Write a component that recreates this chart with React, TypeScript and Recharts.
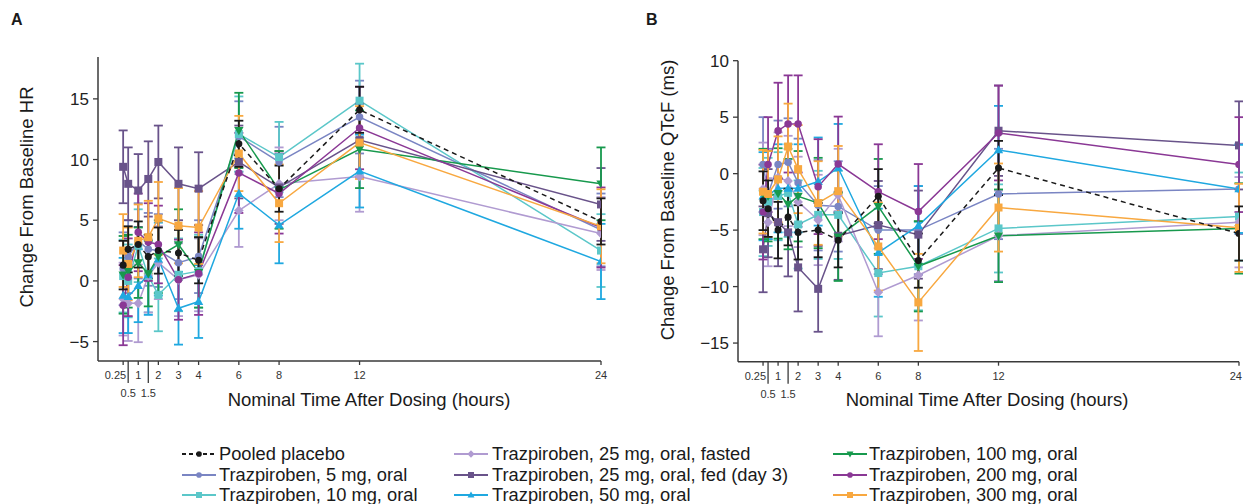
import React from 'react';
import { ComposedChart, Line, XAxis, YAxis, ErrorBar } from 'recharts';

// ---------- categories / ticks ----------
const times = [0.25, 0.5, 1, 1.5, 2, 3, 4, 6, 8, 12, 24];
const xTicks = [0.25, 0.5, 1, 1.5, 2, 3, 4, 6, 8, 12, 24];
const yTicksA = [-5, 0, 5, 10, 15];
const yTicksB = [-15, -10, -5, 0, 5, 10];

const seriesNames = [
  'Pooled placebo',
  'Trazpiroben, 5 mg, oral',
  'Trazpiroben, 10 mg, oral',
  'Trazpiroben, 25 mg, oral, fasted',
  'Trazpiroben, 25 mg, oral, fed (day 3)',
  'Trazpiroben, 50 mg, oral',
  'Trazpiroben, 100 mg, oral',
  'Trazpiroben, 200 mg, oral',
  'Trazpiroben, 300 mg, oral',
];
const seriesColors = ['#1a1a1a', '#7a85c3', '#5bc7c9', '#b09bd1', '#69538a', '#1fa8e0', '#17994d', '#8a3895', '#f8a840'];
const seriesShapes = ['circle', 'circle', 'square', 'diamond', 'square', 'triUp', 'triDown', 'circle', 'square'];

// ---------- Panel A: change from baseline HR ----------
const hrPlacebo = [1.3, 2.6, 3.0, 2.0, 2.5, 2.3, 1.7, 11.3, 7.6, 14.1, 4.9];
const hrPlaceboErr = [2.0, 1.9, 1.9, 1.8, 1.9, 1.9, 1.9, 1.9, 1.9, 1.9, 1.9];
const hr5 = [1.0, 2.0, 3.3, 2.6, 2.5, 1.5, 2.0, 11.9, 9.8, 13.5, 4.2];
const hr5Err = [3.0, 3.0, 3.1, 3.0, 3.0, 3.0, 3.0, 2.9, 2.9, 3.0, 3.0];
const hr10 = [0.4, 0.0, 2.9, 0.4, -1.15, 0.5, 0.8, 12.1, 10.2, 14.85, 2.5];
const hr10Err = [3.0, 3.0, 3.0, 3.0, 3.0, 3.0, 3.0, 3.1, 2.9, 3.05, 3.0];
const hr25f = [-1.5, -1.85, -1.85, 0.4, 1.5, 0.1, 0.5, 5.8, 8.0, 8.6, 3.9];
const hr25fErr = [3.0, 3.1, 3.2, 3.0, 3.0, 3.0, 3.0, 3.0, 3.0, 2.9, 3.0];
const hr25fed = [9.4, 8.0, 7.45, 8.4, 9.8, 8.0, 7.6, 9.8, 7.7, 11.6, 6.3];
const hr25fedErr = [3.0, 3.0, 3.0, 3.1, 3.0, 3.0, 3.0, 3.0, 3.0, 3.0, 3.0];
const hr50 = [-1.2, -1.3, -0.4, 0.5, 1.8, -2.25, -1.7, 7.2, 4.6, 9.05, 1.6];
const hr50Err = [3.1, 3.0, 3.0, 3.3, 3.0, 3.0, 3.0, 2.9, 3.15, 3.0, 3.1];
const hr100 = [0.5, 0.8, 1.5, 0.6, 2.0, 3.0, 0.7, 12.4, 7.5, 10.85, 8.0];
const hr100Err = [3.2, 3.0, 2.9, 2.7, 3.0, 2.9, 2.9, 3.1, 3.2, 3.2, 3.0];
const hr200 = [-2.0, 0.3, 4.0, 3.2, 3.0, 0.1, 0.6, 8.9, 7.2, 12.6, 4.4];
const hr200Err = [3.3, 3.2, 3.2, 3.2, 3.2, 3.3, 3.4, 3.3, 3.3, 3.4, 3.3];
const hr300 = [2.5, 1.4, 3.3, 3.6, 5.15, 4.55, 4.4, 10.5, 6.4, 11.4, 4.5];
const hr300Err = [3.0, 3.0, 3.0, 3.0, 3.0, 3.1, 3.0, 3.1, 3.2, 3.0, 3.05];

// ---------- Panel B: change from baseline QTcF ----------
const qtPlacebo = [-2.4, -3.1, -5.0, -3.85, -5.2, -5.0, -5.9, -2.0, -7.7, 0.5, -5.3];
const qtPlaceboErr = [2.6, 2.5, 2.5, 2.5, 2.4, 2.4, 2.4, 2.4, 2.4, 2.4, 2.4];
const qt5 = [0.8, -1.8, 0.8, 1.0, -0.8, -2.8, -2.9, -5.0, -5.0, -1.8, -1.35];
const qt5Err = [4.2, 4.0, 3.9, 3.9, 3.9, 4.0, 4.0, 3.9, 3.9, 4.0, 4.0];
const qt10 = [-3.4, -2.5, -2.0, -1.7, -4.5, -3.65, -3.65, -8.8, -8.2, -4.85, -3.8];
const qt10Err = [3.9, 3.9, 3.9, 3.9, 3.9, 3.9, 3.9, 3.85, 3.9, 3.9, 3.9];
const qt25f = [-1.35, -4.3, -0.35, -0.65, -2.5, -4.1, -1.9, -10.5, -9.0, -5.5, -4.3];
const qt25fErr = [4.1, 3.9, 4.0, 4.0, 4.0, 4.0, 4.1, 3.9, 4.0, 4.0, 4.0];
const qt25fed = [-6.7, -3.5, -4.3, -5.2, -8.3, -10.2, -5.5, -4.55, -5.4, 3.8, 2.5];
const qt25fedErr = [3.8, 3.9, 3.9, 3.9, 3.9, 3.8, 3.9, 3.9, 3.9, 4.0, 3.9];
const qt50 = [-2.0, -1.9, -1.3, -1.3, -1.3, -0.7, 0.5, -7.0, -4.6, 2.1, -1.35];
const qt50Err = [3.9, 3.9, 3.9, 3.9, 3.9, 3.9, 3.9, 3.9, 3.5, 3.9, 3.9];
const qt100 = [-1.8, -2.0, -1.75, -2.7, -2.0, -2.6, -5.6, -2.9, -8.2, -5.5, -4.85];
const qt100Err = [4.0, 4.0, 4.0, 4.0, 4.0, 4.0, 3.9, 4.2, 4.0, 4.1, 4.0];
const qt200 = [-3.4, 0.8, 3.8, 4.4, 4.4, -1.15, 0.85, -1.6, -3.35, 3.6, 0.8];
const qt200Err = [4.2, 4.2, 4.25, 4.3, 4.3, 4.2, 4.2, 4.2, 4.2, 4.2, 4.2];
const qt300 = [-1.6, -1.8, -0.5, 2.4, 0.4, -2.6, -1.55, -6.45, -11.4, -3.0, -4.8];
const qt300Err = [3.7, 3.8, 3.8, 3.8, 3.9, 3.7, 4.0, 3.9, 4.3, 3.9, 3.9];

const hrMeans = [hrPlacebo, hr5, hr10, hr25f, hr25fed, hr50, hr100, hr200, hr300];
const hrErrs = [hrPlaceboErr, hr5Err, hr10Err, hr25fErr, hr25fedErr, hr50Err, hr100Err, hr200Err, hr300Err];
const qtMeans = [qtPlacebo, qt5, qt10, qt25f, qt25fed, qt50, qt100, qt200, qt300];
const qtErrs = [qtPlaceboErr, qt5Err, qt10Err, qt25fErr, qt25fedErr, qt50Err, qt100Err, qt200Err, qt300Err];

function buildRows(means: number[][], errs: number[][]) {
  return times.map((t, i) => {
    const row: any = { t };
    means.forEach((m, s) => {
      row[`s${s}`] = m[i];
      row[`e${s}`] = errs[s][i];
    });
    return row;
  });
}

const rowsA = buildRows(hrMeans, hrErrs);
const rowsB = buildRows(qtMeans, qtErrs);

const AXIS = '#3a3a3a';
const FONT = '"Liberation Sans", Arial, Helvetica, sans-serif';

function Marker({ shape, cx, cy, color, size }: any) {
  if (cx == null || cy == null) return <g />;
  const s = size;
  switch (shape) {
    case 'circle':
      return <circle cx={cx} cy={cy} r={s * 0.47} fill={color} />;
    case 'square':
      return <rect x={cx - s / 2} y={cy - s / 2} width={s} height={s} fill={color} />;
    case 'diamond':
      return (
        <path
          d={`M${cx},${cy - s * 0.62}L${cx + s * 0.6},${cy}L${cx},${cy + s * 0.62}L${cx - s * 0.6},${cy}Z`}
          fill={color}
        />
      );
    case 'triUp':
      return (
        <path d={`M${cx},${cy - s * 0.6}L${cx + s * 0.58},${cy + s * 0.42}L${cx - s * 0.58},${cy + s * 0.42}Z`} fill={color} />
      );
    case 'triDown':
      return (
        <path d={`M${cx},${cy + s * 0.6}L${cx + s * 0.58},${cy - s * 0.42}L${cx - s * 0.58},${cy - s * 0.42}Z`} fill={color} />
      );
    default:
      return <g />;
  }
}

function XTick(props: any) {
  const { x, y, payload, shiftLast } = props;
  const v = payload.value;
  const lower = v === 0.5 || v === 1.5;
  if (lower) {
    return (
      <g>
        <line x1={x} x2={x} y1={y} y2={y + 22} stroke={AXIS} strokeWidth={1.3} />
        <text x={x} y={y + 36} textAnchor="middle" fontSize={11} fill="#333" fontFamily={FONT}>
          {String(v)}
        </text>
      </g>
    );
  }
  let tx = x;
  let anchor: 'start' | 'middle' | 'end' = 'middle';
  if (v === 0.25) {
    tx = x + 3;
    anchor = 'end';
  } else if (v === 24 && shiftLast) {
    tx = x + 3;
    anchor = 'end';
  }
  return (
    <g>
      <line x1={x} x2={x} y1={y} y2={y + 4} stroke={AXIS} strokeWidth={1.3} />
      <text x={tx} y={y + 18} textAnchor={anchor} fontSize={11} fill="#333" fontFamily={FONT}>
        {String(v)}
      </text>
    </g>
  );
}

const fmtMinus = (v: number) => (v < 0 ? `\u2212${Math.abs(v)}` : `${v}`);

// drawing order: drugs first, placebo on top
const drawOrder = [1, 2, 3, 4, 5, 6, 7, 8, 0];

function Panel({ rows, domain, yTicks, width, margin, yWidth, shiftLast }: any) {
  return (
    <ComposedChart width={width} height={420} data={rows} margin={margin}>
      <XAxis
        dataKey="t"
        type="number"
        domain={[-1, 24]}
        ticks={xTicks}
        interval={0}
        allowDataOverflow
        height={30}
        axisLine={{ stroke: AXIS, strokeWidth: 1.5 }}
        tickLine={false}
        tickSize={0}
        tickMargin={0}
        tick={(p: any) => <XTick {...p} shiftLast={shiftLast} />}
      />
      <YAxis
        type="number"
        domain={domain}
        ticks={yTicks}
        interval={0}
        allowDataOverflow
        width={yWidth}
        axisLine={{ stroke: AXIS, strokeWidth: 1.5 }}
        tickLine={{ stroke: AXIS, strokeWidth: 1.3 }}
        tickSize={5}
        tickMargin={4}
        tickFormatter={fmtMinus}
        tick={{ fontSize: 17, fill: '#222', fontFamily: FONT }}
      />
      {drawOrder.map((s) => (
        <Line
          key={s}
          type="linear"
          dataKey={`s${s}`}
          stroke={seriesColors[s]}
          strokeWidth={1.5}
          strokeDasharray={s === 0 ? '5 4' : undefined}
          isAnimationActive={false}
          activeDot={false}
          dot={(p: any) => (
            <Marker key={`d${s}-${p.index}`} shape={seriesShapes[s]} cx={p.cx} cy={p.cy} color={seriesColors[s]} size={s === 0 ? 7.5 : 8} />
          )}
        >
          <ErrorBar
            dataKey={`e${s}`}
            width={4.5}
            stroke={seriesColors[s]}
            strokeWidth={1.8}
            direction="y"
            isAnimationActive={false}
          />
        </Line>
      ))}
    </ComposedChart>
  );
}

function LegendSample({ s }: { s: number }) {
  const c = seriesColors[s];
  return (
    <svg width={34} height={12} style={{ display: 'block' }}>
      <line x1={0} x2={34} y1={6} y2={6} stroke={c} strokeWidth={2} strokeDasharray={s === 0 ? '4 3' : undefined} />
      <Marker shape={seriesShapes[s]} cx={17} cy={6} color={c} size={6} />
    </svg>
  );
}

const legendCols = [
  { sampleX: 182, textX: 219, items: [0, 1, 2] },
  { sampleX: 454, textX: 492, items: [3, 4, 5] },
  { sampleX: 833, textX: 869, items: [6, 7, 8] },
];
const legendRowY = [454, 474.5, 494.5];

const textStyle: React.CSSProperties = {
  position: 'absolute',
  fontFamily: FONT,
  color: '#1a1a1a',
  whiteSpace: 'nowrap',
};

export default function App() {
  return (
    <div
      style={{
        position: 'absolute',
        left: 0,
        top: 0,
        width: 1243,
        height: 504,
        background: '#fff',
        overflow: 'hidden',
        fontFamily: FONT,
      }}
    >
      <div style={{ position: 'absolute', left: 0, top: 0 }}>
        <Panel
          rows={rowsA}
          domain={[-6.6, 18.45]}
          yTicks={yTicksA}
          width={620}
          yWidth={98}
          margin={{ top: 57, right: 19, bottom: 29, left: 0 }}
        />
      </div>
      <div style={{ position: 'absolute', left: 620, top: 0 }}>
        <Panel
          rows={rowsB}
          domain={[-16.65, 10]}
          yTicks={yTicksB}
          width={623}
          yWidth={118}
          shiftLast
          margin={{ top: 60.7, right: 4, bottom: 28.3, left: 0 }}
        />
      </div>

      {/* panel letters */}
      <div style={{ ...textStyle, left: 11, top: 11, fontSize: 16, fontWeight: 'bold' }}>A</div>
      <div style={{ ...textStyle, left: 646, top: 11, fontSize: 16, fontWeight: 'bold' }}>B</div>

      {/* y-axis titles */}
      <div
        style={{
          ...textStyle,
          left: 27 - 150,
          top: 197 - 12,
          width: 300,
          height: 24,
          lineHeight: '24px',
          textAlign: 'center',
          fontSize: 18.5,
          transform: 'rotate(-90deg)',
        }}
      >
        Change From Baseline HR
      </div>
      <div
        style={{
          ...textStyle,
          left: 668 - 170,
          top: 200 - 12,
          width: 340,
          height: 24,
          lineHeight: '24px',
          textAlign: 'center',
          fontSize: 18.5,
          transform: 'rotate(-90deg)',
        }}
      >
        Change From Baseline QTcF (ms)
      </div>

      {/* x-axis titles */}
      <div style={{ ...textStyle, left: 369 - 200, top: 388, width: 400, height: 24, lineHeight: '24px', textAlign: 'center', fontSize: 18.5 }}>
        Nominal Time After Dosing (hours)
      </div>
      <div style={{ ...textStyle, left: 987 - 200, top: 388, width: 400, height: 24, lineHeight: '24px', textAlign: 'center', fontSize: 18.5 }}>
        Nominal Time After Dosing (hours)
      </div>

      {/* legend */}
      {legendCols.map((col, ci) =>
        col.items.map((s, ri) => (
          <React.Fragment key={`${ci}-${ri}`}>
            <div style={{ position: 'absolute', left: col.sampleX, top: legendRowY[ri] - 6 }}>
              <LegendSample s={s} />
            </div>
            <div
              style={{
                ...textStyle,
                left: col.textX,
                top: legendRowY[ri] - 11,
                height: 22,
                lineHeight: '22px',
                fontSize: 18.3,
              }}
            >
              {seriesNames[s]}
            </div>
          </React.Fragment>
        ))
      )}
    </div>
  );
}
